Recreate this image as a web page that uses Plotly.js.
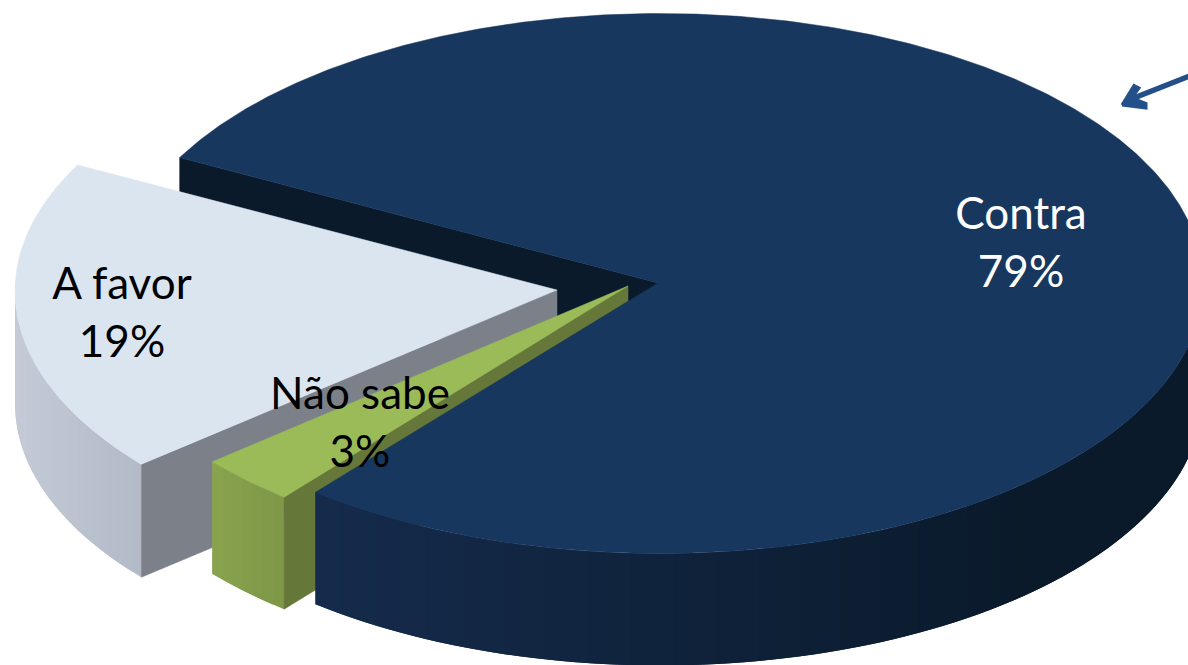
<!DOCTYPE html>
<html>
<head>
<meta charset="utf-8">
<script src="https://cdn.plot.ly/plotly-3.0.1.min.js"></script>
<style>html,body{margin:0;padding:0;background:#fff}#chart{width:1188px;height:665px}</style>
</head>
<body>
<div id="chart"></div>
<script>
const categories = ["Contra", "Não sabe", "A favor"];
const values = [79, 3, 19];
const labelColors = ["#ffffff", "#000000", "#000000"];
const labelX = [1021, 360, 122];
const labelY = [247, 427, 317];
const topColors = ["#17375e", "#9bbb59", "#dbe5f0"];
const cutColors = ["#0a1a2b", "#667839", "#7b8089"];
const apexX = [658, 628, 557];
const apexY = [283, 286, 290];
const centerX = [660, 628, 557];
const centerY = [283.5, 288.5, 291];
const radiusX = [543, 542, 542];
const radiusY = [270, 270, 270];
const depths = [112, 112, 113];
const wallFrom = ["#152b4c", "#89a34f", "#c4cbd7"];
const wallTo = ["#0a1a2b", "#7d9747", "#b3bac7"];
const wallSpan = [0.8, 1, 1];
const startAngle = 207.8;
const arrowColor = "#24508a";
const arrowShaftX = [1192, 1132];
const arrowShaftY = [75, 98.8];
const arrowHeadX = [1122, 1134, 1139, 1132, 1146, 1146];
const arrowHeadY = [105, 85.5, 88, 98, 103.5, 108];

const rad = d => d * Math.PI / 180;
const hex = s => [1, 3, 5].map(i => parseInt(s.slice(i, i + 2), 16));
const mix = (a, b, f) => {
  const A = hex(a), B = hex(b);
  return "rgb(" + A.map((v, i) => Math.round(v + (B[i] - v) * f)).join(",") + ")";
};
const total = values.reduce((s, v) => s + v, 0);

let angle = startAngle;
const slices = values.map((v, i) => {
  const t0 = angle, t1 = angle + v / total * 360;
  angle = t1;
  return {i, t0, t1,
    px: t => centerX[i] + radiusX[i] * Math.cos(rad(t)),
    py: t => centerY[i] + radiusY[i] * Math.sin(rad(t))};
});

function poly(xs, ys, color, width) {
  return {type: "scatter", mode: "lines", x: xs.concat(xs[0]), y: ys.concat(ys[0]),
    fill: "toself", fillcolor: color, line: {color: color, width: width},
    hoverinfo: "skip", showlegend: false};
}
function topFace(s) {
  const xs = [apexX[s.i]], ys = [apexY[s.i]];
  for (let t = s.t0; t < s.t1; t += 0.5) { xs.push(s.px(t)); ys.push(s.py(t)); }
  xs.push(s.px(s.t1)); ys.push(s.py(s.t1));
  return poly(xs, ys, topColors[s.i], 0.5);
}
function cutWall(s, t) {
  const d = depths[s.i], cx = apexX[s.i], cy = apexY[s.i];
  return poly([cx, s.px(t), s.px(t), cx], [cy, s.py(t), s.py(t) + d, cy + d], cutColors[s.i], 0.5);
}
// outer rim: overlapping shaded strips for the part that faces the viewer (0-180 deg)
function rim(s) {
  const out = [], d = depths[s.i], step = 1.5;
  const r0 = Math.max(s.t0, 360), r1 = Math.min(s.t1, 540);
  const xMin = Math.min(s.px(r0), s.px(r1)), xMax = Math.max(s.px(r0), s.px(r1));
  for (let t = r0; t < r1; t += step) {
    const u = Math.min(t + 2 * step, r1);
    const xs = [], ys = [];
    for (let q = t; q < u; q += 0.5) { xs.push(s.px(q)); ys.push(s.py(q)); }
    xs.push(s.px(u)); ys.push(s.py(u));
    const n = xs.length;
    for (let k = n - 1; k >= 0; k--) { xs.push(xs[k]); ys.push(ys[k] + d); }
    const f = Math.min(1, (s.px(t + step / 2) - xMin) / (xMax - xMin) / wallSpan[s.i]);
    out.push(poly(xs, ys, mix(wallFrom[s.i], wallTo[s.i], f), 0));
  }
  return out;
}

const [contra, naoSabe, aFavor] = slices;
const data = [
  cutWall(contra, contra.t0),
  ...rim(aFavor), cutWall(aFavor, aFavor.t0), topFace(aFavor),
  ...rim(naoSabe), cutWall(naoSabe, naoSabe.t0), topFace(naoSabe),
  ...rim(contra), topFace(contra),
  {type: "scatter", mode: "lines", x: arrowShaftX, y: arrowShaftY,
    line: {color: arrowColor, width: 5.5}, hoverinfo: "skip", showlegend: false},
  poly(arrowHeadX, arrowHeadY, arrowColor, 3),
  {type: "scatter", mode: "text", x: labelX, y: labelY,
    text: categories.map((c, i) => c + "<br>" + values[i] + "%"),
    textposition: "middle center",
    textfont: {family: "Lato, 'Open Sans', sans-serif", size: 44, color: labelColors},
    hoverinfo: "skip", showlegend: false}
];

const layout = {
  width: 1188, height: 665, margin: {l: 0, r: 0, t: 0, b: 0},
  paper_bgcolor: "#ffffff", plot_bgcolor: "#ffffff", showlegend: false,
  xaxis: {range: [0, 1188], visible: false, fixedrange: true},
  yaxis: {range: [665, 0], visible: false, fixedrange: true}
};
Plotly.newPlot("chart", data, layout, {displayModeBar: false, staticPlot: true});
</script>
</body>
</html>
